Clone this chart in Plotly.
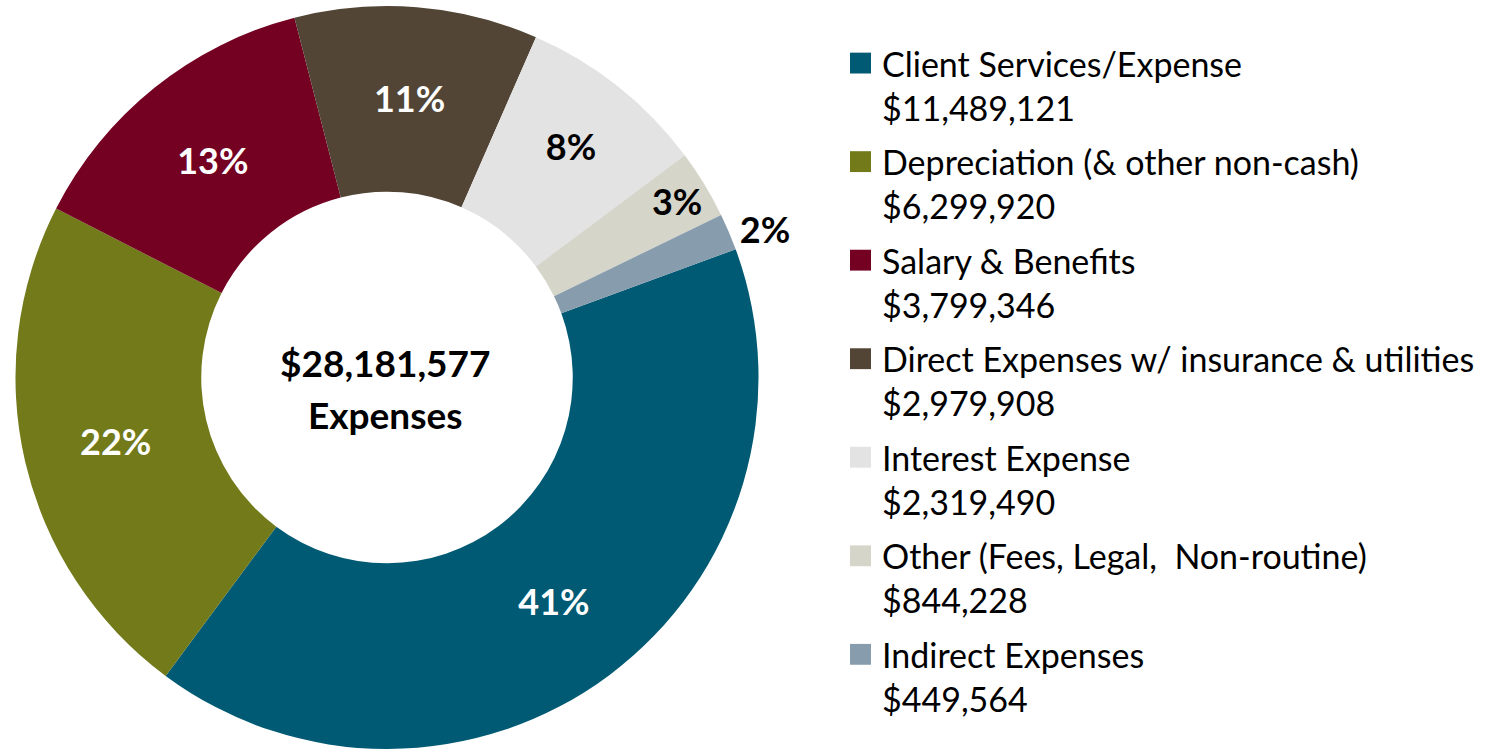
import plotly.graph_objects as go

categories = [
    "Client Services/Expense",
    "Depreciation (&amp; other non-cash)",
    "Salary &amp; Benefits",
    "Direct Expenses w/ insurance &amp; utilities",
    "Interest Expense",
    "Other (Fees, Legal,  Non-routine)",
    "Indirect Expenses",
]
expenses = [11489121, 6299920, 3799346, 2979908, 2319490, 844228, 449564]
colors = ["#005A74", "#727A1A", "#740022", "#524535", "#E3E3E3", "#D6D5CA", "#879CAD"]
text_colors = ["white", "white", "white", "white", "black", "black", "black"]
text_positions = ["inside"] * 6 + ["outside"]
center_caption = "Expenses"

FONT = "Lato, 'Open Sans', sans-serif"
W, H = 1493, 754

total = sum(expenses)


def px_x(x):
    return x / W


def px_y(y):
    return 1 - y / H


fig = go.Figure(
    go.Pie(
        labels=categories,
        values=expenses,
        hole=0.5,
        sort=False,
        direction="clockwise",
        rotation=69.8,
        marker=dict(colors=colors, line=dict(width=0)),
        texttemplate="%{percent:.0%}",
        textposition=text_positions,
        insidetextorientation="horizontal",
        insidetextfont=dict(family=FONT, size=36, color=text_colors, weight="bold"),
        outsidetextfont=dict(family=FONT, size=36, color="black", weight="bold"),
        domain=dict(x=[12 / W, 762 / W], y=[0, 748 / H]),
        hoverinfo="label+percent",
        showlegend=False,
    )
)

# centre caption
fig.add_annotation(
    x=px_x(385), y=px_y(365), xref="paper", yref="paper",
    xanchor="center", yanchor="middle",
    text=f"<b>${total:,}</b>", showarrow=False,
    font=dict(family=FONT, size=37, color="black"),
)
fig.add_annotation(
    x=px_x(385), y=px_y(417), xref="paper", yref="paper",
    xanchor="center", yanchor="middle",
    text=f"<b>{center_caption}</b>", showarrow=False,
    font=dict(family=FONT, size=37, color="black"),
)

# legend (two-line entries: name and amount)
LEG_TOP = 63.5
LEG_STEP = 99.2
LEG_LINE = 44.5
for i, (name, val, col) in enumerate(zip(categories, expenses, colors)):
    yc = LEG_TOP + i * LEG_STEP
    fig.add_shape(
        type="rect", xref="paper", yref="paper",
        x0=px_x(850), x1=px_x(871), y0=px_y(yc - 10.5), y1=px_y(yc + 10.5),
        fillcolor=col, line=dict(width=0),
    )
    fig.add_annotation(
        x=px_x(880), y=px_y(yc), xref="paper", yref="paper",
        xanchor="left", yanchor="middle", showarrow=False,
        text=name, font=dict(family=FONT, size=34, color="black"),
    )
    fig.add_annotation(
        x=px_x(880), y=px_y(yc + LEG_LINE), xref="paper", yref="paper",
        xanchor="left", yanchor="middle", showarrow=False,
        text=f"${val:,}", font=dict(family=FONT, size=34, color="black"),
    )

fig.update_layout(
    width=W,
    height=H,
    margin=dict(l=0, r=0, t=0, b=0),
    paper_bgcolor="white",
    plot_bgcolor="white",
    uniformtext=dict(minsize=36, mode="show"),
    showlegend=False,
)

fig.write_html(
    "out.html",
    config={"displayModeBar": False},
    post_script="document.body.style.margin='0px';document.body.style.overflow='hidden';",
)
